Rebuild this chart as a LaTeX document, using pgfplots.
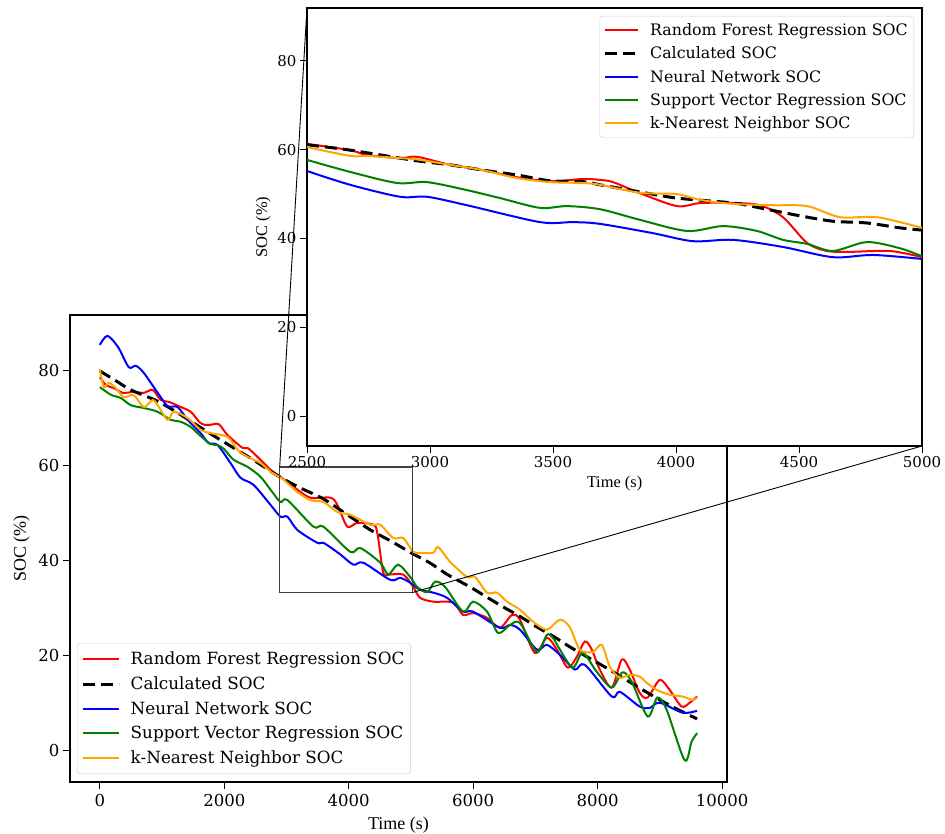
\documentclass[border=0pt]{standalone}
\usepackage{fontspec}
\usepackage{pgfplots}
\pgfplotsset{compat=1.18}
\newfontfamily\dvs{DejaVu Serif}
\newfontfamily\lib{Liberation Serif}
\definecolor{mplred}{rgb}{1,0,0}
\definecolor{mplblue}{rgb}{0,0,1}
\definecolor{mplgreen}{rgb}{0,0.5,0}
\definecolor{mplorange}{rgb}{1,0.647,0}
\pgfplotsset{
  socstyle/.style={
    scale only axis,
    tick align=outside, major tick length=7pt,
    tick style={black, line width=1pt},
    xtick pos=left, ytick pos=left,
    axis line style={line width=1.1pt},
    scaled x ticks=false, scaled y ticks=false,
    /pgf/number format/1000 sep={},
    /pgf/number format/assume math mode=true,
    legend cell align=left,
  },
  rf/.style={mplred, line width=2pt, smooth},
  calc/.style={black, line width=3pt, dash pattern=on 12pt off 6pt, smooth},
  nn/.style={mplblue, line width=2pt, smooth},
  svr/.style={mplgreen, line width=2pt, smooth},
  knn/.style={mplorange, line width=2pt, smooth},
}
\begin{document}
\begin{tikzpicture}
\useasboundingbox (0,0) rectangle (945pt,834pt);
% ---------------- main axis ----------------
\begin{axis}[socstyle,
  at={(70pt,52pt)}, anchor=south west, width=657pt, height=467pt,
  xmin=-480, xmax=10080, ymin=-6.6, ymax=91.8,
  xtick={0,2000,4000,6000,8000,10000}, ytick={0,20,40,60,80},
  ticklabel style={font=\dvs\fontsize{16.5}{20}\selectfont},
  xticklabel style={yshift=-2pt},
  xlabel={Time (s)}, ylabel={SOC (\%)},
  label style={font=\lib\fontsize{18}{21}\selectfont},
  xlabel style={yshift=-3pt}, ylabel style={yshift=2pt},
  legend image code/.code={\draw[#1] (0pt,0pt) -- (36pt,0pt); \path[draw=none] (0pt,0pt) -- (46pt,0pt);},
  legend style={at={(0.0107,0.017)}, anchor=south west, draw=black!20, rounded corners=3pt,
    fill=white, fill opacity=0.8, text opacity=1, font=\dvs\fontsize{16.8}{20}\selectfont,
    inner xsep=4pt, inner ysep=7pt, row sep=6.4pt},
]
\addplot[rf] coordinates {(0,78.7) (100,77) (225,76.4) (370,75.4) (545,75.6) (706,75.4) (850,76.0) (978,73.9) (1107,73.5) (1267,72.6) (1460,71.4) (1620,69.0) (1748,68.6) (1908,68.8) (2053,66.5) (2293,63.8) (2374,63.8) (2534,61.9) (2743,59.2) (2903,57.7) (3175,55.0) (3384,53.3) (3705,53.3) (3817,51.8) (3977,47.2) (4138,48.0) (4395,47.6) (4459,45.9) (4555,37.5) (4635,37.1) (4876,37.1) (5036,34.5) (5148,32.2) (5357,31.4) (5678,31.2) (5838,28.6) (5998,29.0) (6223,28.0) (6431,25.9) (6624,28.6) (6752,27.6) (6993,20.6) (7185,23.8) (7345,21.3) (7522,17.5) (7666,19.8) (7795,23.0) (7907,21.3) (8035,17.1) (8228,13.3) (8388,19.2) (8516,17.1) (8677,12.2) (8805,11.2) (8998,14.9) (9158,12.8) (9350,9.3) (9479,10.1) (9600,11.4)};
\addlegendentry{Random Forest Regression SOC}
\addplot[calc] coordinates {(0,80) (250,78) (500,76) (900,73.8) (1200,71.6) (1450,69.5) (1750,67) (2100,64.2) (2500,61) (2850,58) (3200,55.5) (3600,53) (4000,49.5) (4350,46.5) (4700,44) (5000,41.7) (5300,39.6) (5600,37) (5950,34.5) (6200,32.5) (6480,30.3) (6750,28.3) (7020,26.1) (7300,24) (7550,21.9) (7800,20) (8200,17) (8600,13.8) (9000,10.7) (9300,8.6) (9600,6.7)};
\addlegendentry{Calculated SOC}
\addplot[nn] coordinates {(0,85.5) (120,87.4) (290,85.1) (465,80.8) (577,81.1) (706,79.6) (930,75.4) (1090,72.6) (1250,72.4) (1411,69.7) (1620,66.9) (1748,64.8) (1892,64.4) (2100,60.6) (2261,57.5) (2470,56.0) (2743,51.8) (2903,49.3) (3015,49.3) (3175,46.5) (3496,43.8) (3593,43.8) (3850,41.5) (4074,39.2) (4234,39.6) (4667,36.0) (4827,36.4) (4988,35.4) (5148,33.9) (5357,33.3) (5581,32.2) (5838,29.3) (5998,29.3) (6431,25.9) (6592,26.5) (6752,25.5) (7025,21.3) (7185,22.3) (7394,20.2) (7634,17.1) (7795,18.1) (8228,11.4) (8356,12.4) (8677,9.3) (8837,9.0) (8998,10.1) (9367,8.0) (9600,8.4)};
\addlegendentry{Neural Network SOC}
\addplot[svr] coordinates {(0,76.6) (176,75.0) (337,74.3) (497,72.8) (706,72.2) (930,71.4) (1139,69.7) (1299,69.3) (1460,68.2) (1620,66.3) (1780,64.6) (1892,64.4) (2000,63.5) (2149,61.3) (2374,59.8) (2582,57.7) (2743,55.0) (2903,52.4) (3015,52.8) (3432,47.2) (3593,47.2) (4026,41.9) (4186,42.7) (4507,39.6) (4635,37.1) (4795,39.2) (4988,36.6) (5100,34.5) (5260,33.4) (5389,35.6) (5549,34.5) (5838,29.3) (5998,31.4) (6223,29.3) (6400,24.8) (6592,26.5) (6752,26.9) (7025,20.8) (7185,24.4) (7281,23.8) (7394,21.3) (7602,17.5) (7762,20.6) (7987,16.6) (8228,13.3) (8400,16.5) (8550,14.5) (8805,7.2) (8960,11.2) (9110,8.6) (9399,-2.0) (9511,1.9) (9600,3.7)};
\addlegendentry{Support Vector Regression SOC}
\addplot[knn] coordinates {(0,80.4) (64,76.6) (144,77.5) (257,76.4) (385,74.5) (545,74.9) (706,72.4) (850,73.9) (930,72.8) (1090,69.7) (1187,71.4) (1411,70.1) (1620,67.6) (1780,66.9) (2053,66.1) (2213,63.4) (2374,61.9) (2582,60.6) (2743,58.8) (2951,57.1) (3175,54.5) (3384,52.8) (3593,52.4) (3817,50.3) (4026,49.7) (4346,47.6) (4507,47.6) (4715,44.8) (4876,44.8) (5036,41.9) (5148,41.7) (5357,41.7) (5437,42.9) (5629,39.8) (5902,36.6) (6030,36.6) (6223,33.3) (6383,33.3) (6544,31.4) (6752,29.7) (6961,27.2) (7185,25.5) (7394,27.6) (7554,26.0) (7714,21.3) (7923,20.8) (8067,22.3) (8196,17.7) (8356,15.4) (8516,16.0) (8677,15.6) (8789,14.3) (8950,12.8) (9158,11.8) (9367,11.4) (9527,10.7) (9600,11.2)};
\addlegendentry{k-Nearest Neighbor SOC}
\draw[black!75, line width=1.3pt] (axis cs:2890,33.3) rectangle (axis cs:5020,59.8);
\coordinate (r1) at (axis cs:2890,59.8);
\coordinate (r2) at (axis cs:5020,33.3);
\end{axis}
% ---------------- inset axis ----------------
\begin{axis}[socstyle,
  at={(307pt,388pt)}, anchor=south west, width=615pt, height=438pt,
  axis background/.style={fill=white},
  xmin=2500, xmax=5000, ymin=-6.7, ymax=91.9,
  xtick={2500,3000,3500,4000,4500,5000}, ytick={0,20,40,60,80},
  ticklabel style={font=\dvs\fontsize{15}{18}\selectfont},
  xlabel={Time (s)}, ylabel={SOC (\%)},
  label style={font=\lib\fontsize{16.4}{19}\selectfont},
  xlabel style={yshift=-1pt},
  legend image code/.code={\draw[#1] (0pt,0pt) -- (33pt,0pt); \path[draw=none] (0pt,0pt) -- (43pt,0pt);},
  legend style={at={(0.987,0.982)}, anchor=north east, draw=black!20, rounded corners=3pt,
    fill=white, fill opacity=0.8, text opacity=1, font=\dvs\fontsize{15.8}{19}\selectfont,
    inner xsep=4pt, inner ysep=5.5pt, row sep=5.8pt},
]
\addplot[rf] coordinates {(2500,61.3) (2675,59.9) (2744,58.8) (2878,58.1) (2947,58.4) (3081,56.6) (3215,55.4) (3354,53.8) (3488,52.9) (3622,53.4) (3691,53.2) (3744,52.7) (3854,50.2) (4004,47.3) (4098,48.0) (4232,48.0) (4341,47.5) (4435,44.8) (4533,39.0) (4614,37.2) (4707,37.0) (4870,37.2) (5000,35.8)};
\addlegendentry{Random Forest Regression SOC}
\addplot[calc] coordinates {(2500,61.1) (2675,59.9) (2947,57.5) (3081,56.6) (3215,55.4) (3354,54.3) (3488,53.0) (3622,52.8) (3691,52.1) (3854,50.5) (4004,49.1) (4232,48.0) (4341,46.9) (4505,45.1) (4638,43.9) (4776,43.5) (4911,42.4) (5000,41.9)};
\addlegendentry{Calculated SOC}
\addplot[nn] coordinates {(2500,55.2) (2675,52.1) (2878,49.4) (2988,49.4) (3150,47.5) (3447,43.7) (3581,43.7) (3691,43.3) (3907,41.2) (4069,39.4) (4232,39.7) (4435,38.1) (4638,35.8) (4801,36.3) (5000,35.4)};
\addlegendentry{Neural Network SOC}
\addplot[svr] coordinates {(2500,57.7) (2675,55.0) (2866,52.5) (2988,52.7) (3150,50.9) (3285,49.1) (3447,46.9) (3557,47.3) (3691,46.6) (3854,44.2) (4045,41.7) (4191,42.8) (4329,41.7) (4435,39.7) (4533,38.8) (4638,37.2) (4776,39.2) (4911,37.8) (5000,36.0)};
\addlegendentry{Support Vector Regression SOC}
\addplot[knn] coordinates {(2500,60.6) (2675,58.6) (2744,58.6) (2878,58.1) (2947,57.8) (3081,56.6) (3215,55.4) (3354,53.6) (3488,52.7) (3622,52.5) (3691,52.1) (3854,50.3) (4004,50.0) (4098,48.7) (4232,47.8) (4395,47.5) (4533,47.3) (4667,44.8) (4818,44.8) (5000,42.4)};
\addlegendentry{k-Nearest Neighbor SOC}
\coordinate (i1) at (rel axis cs:0,1);
\coordinate (i2) at (rel axis cs:1,0);
\end{axis}
\draw[black, line width=0.9pt] (r1) -- (i1);
\draw[black, line width=0.9pt] (r2) -- (i2);
\end{tikzpicture}
\end{document}
